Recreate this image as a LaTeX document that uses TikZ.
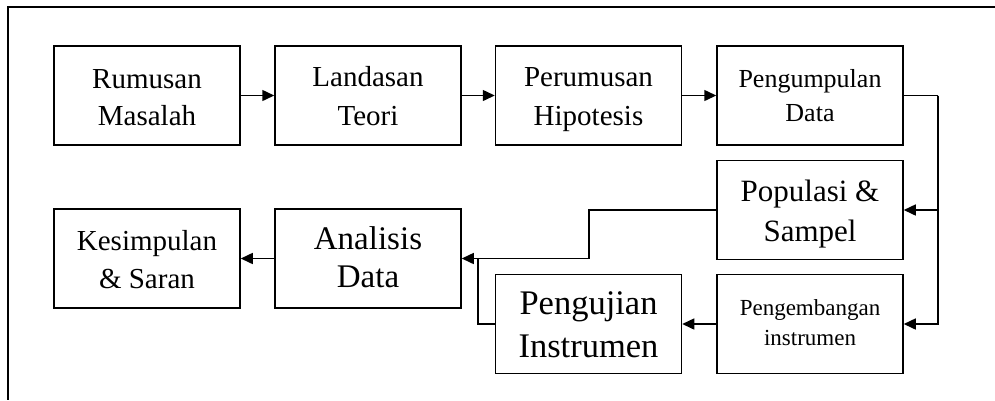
\documentclass[tikz,border=0pt]{standalone}
\usepackage{fontspec}
\setmainfont{Liberation Serif}
\usetikzlibrary{arrows.meta}

\begin{document}
\begin{tikzpicture}[x=1pt, y=-1pt,
    box/.style={draw, line width=1.5pt, minimum width=186pt, minimum height=99pt, align=center, inner sep=0pt},
    % font size, line skip, shift of the text
    sz/.style n args={3}{font=\fontsize{#1}{#2}\selectfont, text height={0.66*#1*1pt+#2*1pt+#3*1pt}, text depth={-#3*1pt}},
    conn/.style={line width=1.5pt},
    arr/.style={conn, -{Triangle[length=12pt, width=11pt]}}]
    \useasboundingbox (0,0) rectangle (995,400);

    % Frame
    \draw[line width=2.4pt] (995,7) -- (8,7) -- (8,400);

    % Draw nodes
    \node[box, sz={29}{37}{4}] (rm) at (147,95.5) {Rumusan\\Masalah};
    \node[box, sz={29}{39}{2.5}] (lt) at (368,95.5) {Landasan\\Teori};
    \node[box, sz={29}{39}{2.5}] (ph) at (588.5,95.5) {Perumusan\\Hipotesis};
    \node[box, sz={26}{34}{1.5}] (pd) at (810,95.5) {Pengumpulan\\Data};
    \node[box, sz={31}{40}{3.5}] (ps) at (810,210) {Populasi \&\\Sampel};
    \node[box, sz={23}{30}{-1.5}] (pi) at (810,324) {Pengembangan\\instrumen};
    \node[box, sz={34.5}{43}{1.5}] (uji) at (588.5,324) {Pengujian\\Instrumen};
    \node[box, sz={33}{38}{-1}] (ad) at (368,258.5) {Analisis\\Data};
    \node[box, sz={29}{38}{3}] (ks) at (147,258.5) {Kesimpulan\\\& Saran};

    % Turning points
    \coordinate (bus) at (938,95.5);
    \coordinate (step1) at (589,210);
    \coordinate (step2) at (478,324);

    % Draw connections
    \draw[arr] (rm) -- (lt);
    \draw[arr] (lt) -- (ph);
    \draw[arr] (ph) -- (pd);
    \draw[conn] (pd.east) -- (bus);
    \draw[arr] (bus) |- (ps.east);
    \draw[arr] (bus) |- (pi.east);
    \draw[arr] (pi) -- (uji);
    \draw[arr] (ps.west) -- (step1) |- (ad.east);
    \draw[conn] (uji.west) -- (step2) -- (step2 |- ad.east);
    \draw[arr] (ad) -- (ks);
\end{tikzpicture}
\end{document}
